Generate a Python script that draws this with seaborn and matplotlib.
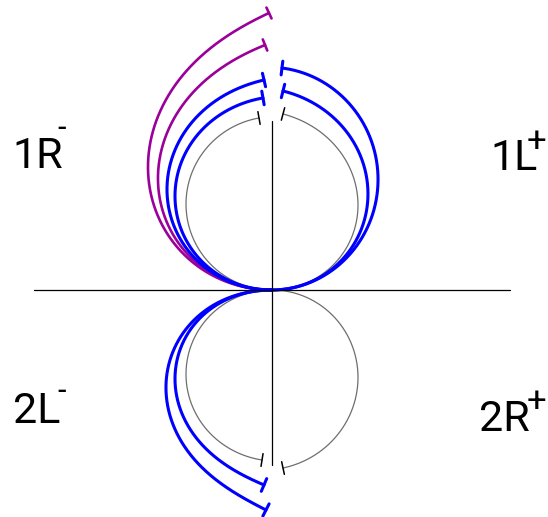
import numpy as np
import pandas as pd
import matplotlib
matplotlib.use("Agg")
import matplotlib.pyplot as plt
import seaborn as sns

# end of each curve (unit = radius of the grey circles,
# origin where the two axes cross). heading = direction of travel at the end, deg.
# width = how far the curve reaches sideways from the vertical axis.
curve_names = ["grey 1R", "grey 1L", "grey 2L", "grey 2R",
               "blue 1L a", "blue 1L b", "blue 1R a", "blue 1R b",
               "purple 1R a", "purple 1R b", "blue 2L a", "blue 2L b"]
end_x = [-0.151, 0.128, -0.116, 0.128,
         0.116, 0.128, -0.093, -0.105,
         -0.035, -0.081, -0.093, -0.070]
end_y = [2.000, 2.047, -1.977, -2.070,
         2.581, 2.314, 2.442, 2.233,
         3.221, 2.849, -2.267, -2.558]
end_heading = [10, 165, -9, 192,
               173, 166, 13, 10,
               25, 22, -23, -27]
width = [1.0, 1.0, 1.0, 1.0,
         1.233, 1.116, 1.221, 1.128,
         1.442, 1.326, 1.128, 1.233]
mirror_x = [-1, 1, -1, 1, 1, 1, -1, -1, -1, -1, -1, -1]
mirror_y = [1, 1, -1, -1, 1, 1, 1, 1, 1, 1, -1, -1]
kind = ["grey"] * 4 + ["blue"] * 4 + ["purple"] * 2 + ["blue"] * 2

styles = {"grey": dict(color="#6e6e6e", lw=0.9, tick="black", tlw=1.1, half=0.075),
          "blue": dict(color="#0000ff", lw=2.2, tick="#0000ff", tlw=2.2, half=0.08),
          "purple": dict(color="#9b009b", lw=1.9, tick="#9b009b", tlw=1.9, half=0.07)}

labels = ["1R", "1L", "2L", "2R"]
label_signs = ["-", "+", "-", "+"]


def trace(p, n=600):
    # curvature k0 + a s + b s^2 along the arc length s
    L, k0, a, b = p
    s = np.linspace(0, L, n)
    th = k0 * s + a * s ** 2 / 2 + b * s ** 3 / 3
    ds = s[1] - s[0]
    c, sn = np.cos(th), np.sin(th)
    x = np.concatenate([[0], np.cumsum((c[1:] + c[:-1]) / 2 * ds)])
    y = np.concatenate([[0], np.cumsum((sn[1:] + sn[:-1]) / 2 * ds)])
    return x, y, th


def solve(X, Y, T, W):
    def res(p):
        x, y, th = trace(p)
        return np.array([x[-1] - X, y[-1] - Y, th[-1] - T, x.max() - W])
    p = np.array([T, 1.0, 0.0, 0.0])
    r = res(p)
    for _ in range(150):
        J = np.zeros((4, 4))
        for j in range(4):
            dp = np.zeros(4)
            dp[j] = 1e-5
            J[:, j] = (res(p + dp) - r) / 1e-5
        step = np.linalg.lstsq(J, -r, rcond=None)[0]
        lam = 1.0
        while lam > 1e-4:
            pn = p + lam * step
            rn = res(pn)
            if np.linalg.norm(rn) < np.linalg.norm(r):
                break
            lam /= 2
        p, r = pn, rn
        if np.linalg.norm(r) < 1e-8:
            break
    return p


rows = []
ticks = []
for i, name in enumerate(curve_names):
    sx, sy = mirror_x[i], mirror_y[i]
    h = np.radians(end_heading[i])
    T = np.arctan2(np.sin(h) * sy, np.cos(h) * sx) % (2 * np.pi)
    p = solve(end_x[i] * sx, end_y[i] * sy, T, width[i])
    x, y, th = trace(p)
    rows.append(pd.DataFrame({"curve": name, "kind": kind[i], "x": x * sx, "y": y * sy}))
    ticks.append((end_x[i], end_y[i], h, kind[i]))
df = pd.concat(rows, ignore_index=True)

sns.set_style("white")
plt.rcParams["font.family"] = ["Roboto", "DejaVu Sans"]

fig = plt.figure(figsize=(5.48, 5.17), dpi=100)
ax = fig.add_axes([0, 0, 1, 1])
u = 86.0
ax.set_xlim(-272 / u, (548 - 272) / u)
ax.set_ylim((290 - 517) / u, 290 / u)
ax.axis("off")

for k in ["grey", "purple", "blue"]:
    st = styles[k]
    for name in [c for c, kk in zip(curve_names, kind) if kk == k]:
        d = df[df["curve"] == name]
        sns.lineplot(data=d, x="x", y="y", sort=False, estimator=None,
                     color=st["color"], lw=st["lw"], ax=ax, legend=False)
for ex, ey, h, k in ticks:
    st = styles[k]
    nx, ny = -np.sin(h) * st["half"], np.cos(h) * st["half"]
    sns.lineplot(x=[ex - nx, ex + nx], y=[ey - ny, ey + ny], sort=False,
                 estimator=None, color=st["tick"], lw=st["tlw"], ax=ax)

# axes
sns.lineplot(x=[-238 / u, 238 / u], y=[0, 0], sort=False, estimator=None,
             color="black", lw=0.9, ax=ax)
sns.lineplot(x=[0, 0], y=[169 / u, -175 / u], sort=False, estimator=None,
             color="black", lw=0.9, ax=ax)

# quadrant labels (pixel positions of the glyphs), superscript sign drawn separately
lab_px = [(12, 168), (490, 170), (13, 423), (479, 431)]
sup_px = [(62, 137), (536, 151), (62, 400), (537, 411)]
sup_size = [22, 25, 22, 25]
for lab, sgn, (lx, ly), (qx, qy), fs in zip(labels, label_signs, lab_px, sup_px, sup_size):
    ax.text((lx - 272) / u, (290 - ly) / u, lab, fontsize=31, ha="left",
            va="baseline", color="black")
    ax.text((qx - 272) / u, (290 - qy) / u, sgn, fontsize=fs, ha="center",
            va="baseline", color="black")

fig.savefig("out.png", dpi=100)
